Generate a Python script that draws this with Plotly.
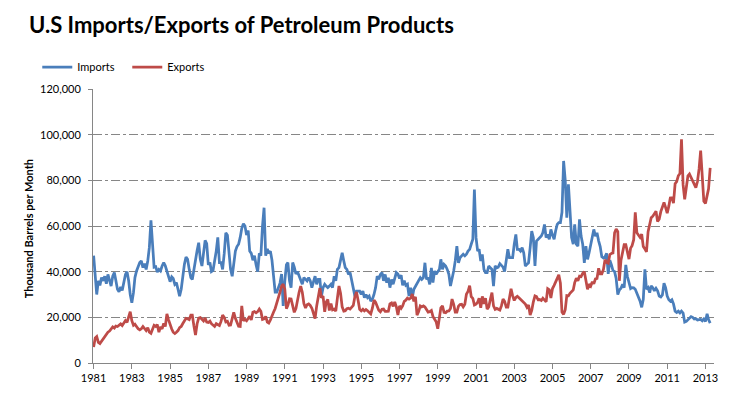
import pandas as pd
import plotly.graph_objects as go

# Monthly values, thousand barrels per month (in thousands), Jan 1981 .. Apr 2013
imports_k = [
    47, 37, 30, 36, 34, 37.4, 36, 38, 34.7, 38.8, 36.6, 33.7,            # 1981
    38, 39.6, 36.2, 32.3, 31.2, 33.3, 31.8, 35.2, 38.8, 40, 36, 30,      # 1982
    26.4, 30.8, 37.4, 40.3, 42, 44, 44.7, 41.8, 43.5, 41, 44.7, 50.5,    # 1983
    62.5, 50.5, 42, 42.2, 39.8, 41, 40.3, 42.5, 44, 42.6, 39.8, 38.2,    # 1984
    35.6, 37.7, 37, 34.5, 35.2, 32.3, 29.3, 32.3, 38, 43.2, 46.4, 45.4,  # 1985
    41, 37.4, 36.6, 41, 46.4, 49.3, 52.7, 45.4, 42.5, 47.3, 53.7, 52.3,  # 1986
    43, 44, 40, 40.5, 44, 49, 55, 44, 44, 41, 48, 57,                    # 1987
    56, 46, 41, 38, 45, 49, 51, 52, 55, 59, 61, 60,                      # 1988
    56, 58, 49, 48, 45, 47, 43, 40, 48, 47, 60, 68,                      # 1989
    47, 50, 48, 49, 45, 37, 31, 31, 33, 35, 39, 25,                      # 1990
    36, 43, 44, 36, 33, 44, 42, 39, 40, 38, 36, 34.5,                    # 1991
    37.4, 36.6, 36, 37.4, 36, 33, 35.2, 38, 34.5, 36.6, 36.6, 29.3,      # 1992
    33, 34.5, 33.7, 33, 33.7, 34.5, 33, 38, 36, 41, 41.8, 44.7,          # 1993
    48.3, 44.7, 41.8, 41, 38.8, 39.6, 36, 31.5, 29.3, 31.5, 31.5, 31.5,  # 1994
    30, 31.5, 28.6, 30, 28.6, 29.3, 27.1, 27.9, 30, 33, 38, 36.6,        # 1995
    38.8, 39.6, 36, 38.8, 35.2, 37.4, 33, 36.6, 34.5, 36.6, 39.6, 39,    # 1996
    37, 38.5, 34, 36, 34, 34.5, 29.3, 33, 28.6, 32.3, 33.7, 34.4,        # 1997
    35.9, 37.4, 36.6, 37.4, 43.9, 36.6, 37.4, 34.4, 41.7, 35.2, 40.3, 38.8,   # 1998
    40, 41, 45.4, 41, 43.2, 42.5, 41, 38.8, 33.7, 36.6, 40.3, 44.7,      # 1999
    51.2, 43.9, 46.1, 46.9, 47.6, 46.9, 47.6, 49, 49.8, 52, 54.2, 76,    # 2000
    54.9, 49, 49.8, 44.7, 47.6, 41, 39.6, 39.6, 42.5, 41.7, 41, 33.7,    # 2001
    42.5, 41.7, 42, 43.5, 42.5, 42, 40, 46, 49.8, 46.1, 46.1, 46.1,      # 2002
    52, 56.3, 49.8, 49.8, 49, 50.5, 48.3, 42.5, 43.2, 43.9, 50.5, 57.8,  # 2003
    54.9, 42.5, 53.4, 54.2, 54.9, 55.6, 57.1, 60.7, 54.9, 56.3, 54.2, 58.5,   # 2004
    56, 54.2, 57.8, 60.7, 61.5, 61.5, 66, 88.5, 80, 63.6, 78.2, 63.6,    # 2005
    54.9, 52, 60.7, 52, 51.2, 62.9, 55.6, 52, 43.9, 51.2, 45.4, 48.3,    # 2006
    52, 54.9, 58.5, 55.6, 57, 53.5, 51, 46.5, 46, 46.5, 48, 39,          # 2007
    45, 43, 40.5, 40, 37, 30, 32, 32.7, 34.5, 33, 43, 38,                # 2008
    34.8, 32.6, 33, 32.9, 32.3, 30.8, 28.6, 27.1, 24.4, 27.9, 41, 32.3,  # 2009
    33, 30.8, 33.8, 33, 31.6, 32.7, 31.6, 29.3, 28.9, 29.8, 35, 33,      # 2010
    29.3, 27.7, 27.1, 27.7, 25.9, 22.7, 22.1, 22.7, 21.9, 22.7, 21.9, 17.9,   # 2011
    18.2, 18.8, 19.6, 20.3, 20, 19.3, 19.4, 18.8, 19, 19.1, 18.5, 19.3,  # 2012
    18.2, 21.5, 19, 17.5,                                                # 2013
]

exports_k = [
    7, 11, 11.6, 9, 8.5, 9.5, 11, 11.5, 12.5, 13.5, 14, 14.8,            # 1981
    15.8, 15.3, 16.2, 16, 16.6, 17.1, 16.4, 17.8, 18.6, 17.8, 20, 22.5,  # 1982
    18.5, 16.5, 17, 15.8, 15, 14.5, 15, 16, 15, 14.2, 15.5, 13.5,        # 1983
    13, 14.5, 16.5, 16, 16.8, 13.5, 15.8, 15, 17.3, 16, 21.5, 19,        # 1984
    16.5, 14.9, 13.5, 12.9, 13.5, 14.2, 15.5, 16, 17.3, 18.8, 19.6, 19.4,  # 1985
    19, 21, 21, 16.2, 12.2, 17.2, 19.7, 19.9, 19.2, 18.4, 19.7, 17.9,    # 1986
    17.7, 18.3, 17.2, 16.5, 16, 17.2, 16.8, 16.4, 18.2, 21, 20, 18,      # 1987
    18.3, 16.5, 16.6, 20, 22.2, 19.6, 18.1, 16.1, 16, 25, 18.5, 19.1,    # 1988
    18.5, 19.7, 20.5, 18.9, 22.2, 22.5, 22, 22.5, 23.6, 22.6, 19.1, 19.3,     # 1989
    20.4, 17.9, 17.5, 18.9, 20.9, 22.3, 23.9, 26, 28.2, 31, 33.7, 34.5,  # 1990
    32.4, 23.8, 25.3, 28.1, 28, 25.2, 22.2, 23.8, 28.1, 31, 33.7, 31,    # 1991
    26, 24.1, 25.5, 25.9, 25.2, 24, 21.8, 19.5, 25, 29.7, 32.8, 28.6,    # 1992
    29.3, 22.4, 26.6, 27.8, 23, 26, 23.3, 23.6, 22.7, 28.3, 33.7, 30.6,  # 1993
    24.6, 22.7, 22.9, 23.8, 24, 23.6, 24.2, 25.2, 29.1, 31.1, 27.5, 23.5,     # 1994
    22.8, 23.5, 22.8, 23.4, 22.9, 22.1, 21.5, 24, 27.5, 26.6, 24.3, 23.1,     # 1995
    22.4, 23.5, 23.6, 22.6, 22.6, 22.7, 25.9, 26.3, 24.8, 26.7, 24.6, 21,     # 1996
    25, 24, 25, 27, 27.5, 28.4, 28, 28.4, 30.2, 27, 29, 21,              # 1997
    22.5, 25, 24.6, 25, 24.5, 23.2, 22.3, 22.5, 23, 20.4, 19.5, 18.1,    # 1998
    15, 21.3, 24.2, 25, 22.2, 22, 22.7, 22.8, 23.9, 28, 25.7, 22.3,      # 1999
    22.3, 24.9, 25.6, 25.7, 24.6, 25.7, 30.1, 31.4, 33.9, 29.1, 28.3, 25.4,   # 2000
    25.8, 26.6, 28.4, 24.2, 29.2, 25.9, 28.4, 23.6, 24.6, 27.8, 30.8, 25,     # 2001
    23.5, 23.9, 23.4, 23.2, 25, 28, 27, 24.5, 24.5, 28, 32.5, 29.5,      # 2002
    27.4, 28.7, 29.2, 28.6, 27.9, 27.1, 26.4, 25.8, 24.4, 25.4, 21, 23,  # 2003
    26.8, 29.4, 29.1, 27.7, 27.8, 27.4, 28.4, 27.6, 26.8, 32.5, 32, 28.5,     # 2004
    32.6, 34, 35.3, 36.8, 38.6, 35, 22.3, 21.3, 23.3, 29.5, 29.4, 30.5,  # 2005
    31.3, 32, 35.2, 37.1, 36, 38, 37.8, 39.3, 40, 35.5, 32.3, 34.5,      # 2006
    33.7, 35.6, 34.7, 36.8, 37, 41.5, 39, 39, 41, 45.2, 44, 43.7,        # 2007
    47.5, 48, 48.2, 57, 58.7, 57.5, 36, 45, 48.2, 51.8, 51.8, 48.5,      # 2008
    45.5, 50.3, 51.4, 54, 66, 57, 55.7, 55, 56.4, 51, 50, 48.7,          # 2009
    57.5, 61.7, 63.6, 64.3, 65.5, 66.5, 62, 63, 66.3, 68.4, 70.3, 68.2,  # 2010
    65.6, 68.7, 72.3, 72.4, 70, 78.5, 79.4, 82, 83, 98, 78, 71.7,        # 2011
    78, 82, 82.8, 81.2, 79.5, 78.2, 76.8, 79.5, 85, 93, 79, 70.8,        # 2012
    69.9, 73.3, 76.3, 85.5,                                              # 2013
]

months = pd.date_range("1981-01-01", periods=len(imports_k), freq="MS")
tick_years = [str(y) for y in range(1981, 2014, 2)]
tick_dates = [pd.Timestamp(y + "-01-01") for y in tick_years]
y_ticks = [0, 20000, 40000, 60000, 80000, 100000, 120000]

BLUE = "#4A7EBB"
RED = "#BE4B48"
GRID = "#868686"
FONT = "Lato, 'Open Sans', sans-serif"

fig = go.Figure()
fig.add_trace(go.Scatter(x=months, y=[v * 1000 for v in imports_k], mode="lines",
                         name="Imports", line=dict(color=BLUE, width=2.75)))
fig.add_trace(go.Scatter(x=months, y=[v * 1000 for v in exports_k], mode="lines",
                         name="Exports", line=dict(color=RED, width=2.75)))

W, H = 730, 396
L, R, T, B = 93, 13, 89, 33
pw, ph = W - L - R, H - T - B

fig.update_layout(
    width=W, height=H,
    margin=dict(l=L, r=R, t=T, b=B),
    paper_bgcolor="white", plot_bgcolor="white",
    font=dict(family=FONT, size=11, color="#000000"),
    title=dict(text="<b>U.S Imports/Exports of Petroleum Products</b>",
               font=dict(family=FONT, size=22, color="#000000"),
               xref="container", yref="container",
               x=29 / W, xanchor="left", y=1 - 25 / H, yanchor="middle"),
    legend=dict(orientation="h", x=(37 - L) / pw, xanchor="left",
                y=1 + (T - 67) / ph, yanchor="middle",
                font=dict(family=FONT, size=11, color="#000000"),
                entrywidth=45, entrywidthmode="pixels",
                bgcolor="rgba(0,0,0,0)"),
    showlegend=True,
    xaxis=dict(type="date", range=["1980-12-20", "2013-06-13"],
               tickvals=tick_dates, ticktext=tick_years,
               ticks="outside", ticklen=5, tickcolor=GRID, tickwidth=1,
               showline=True, linecolor=GRID, linewidth=1,
               showgrid=False, zeroline=False,
               tickfont=dict(family=FONT, size=11, color="#000000")),
    yaxis=dict(range=[0, 120000], tickvals=y_ticks, tickformat=",d",
               ticks="outside", ticklen=4, tickcolor=GRID, tickwidth=1,
               showline=True, linecolor=GRID, linewidth=1,
               showgrid=True, gridcolor=GRID, gridwidth=1, griddash="dashdot",
               zeroline=False, ticklabelstandoff=5,
               tickfont=dict(family=FONT, size=11, color="#000000")),
    annotations=[dict(text="<b>Thousand Barrels per Month</b>", textangle=-90,
                      xref="paper", yref="paper",
                      x=(28 - L) / pw, y=(H - B - 229) / ph,
                      xanchor="center", yanchor="middle", showarrow=False,
                      font=dict(family=FONT, size=11, color="#000000"))],
)

fig.write_html("out.html",
               config={"displayModeBar": False},
               post_script="document.body.style.margin='0px';document.body.style.padding='0px';")
